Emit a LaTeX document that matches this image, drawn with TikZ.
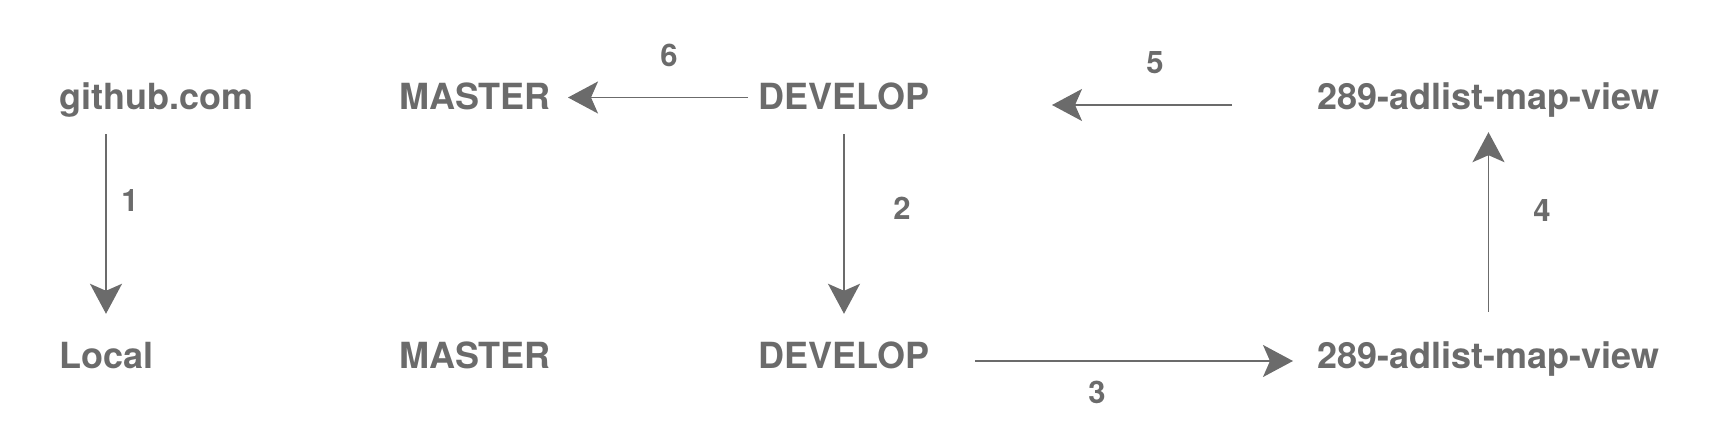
\documentclass[tikz,border=0pt]{standalone}
\usepackage{fontspec}
\setmainfont{TeX Gyre Heros}
\usetikzlibrary{arrows.meta}
\definecolor{flowgray}{HTML}{6B6B6B}
\def\topline{110}
\def\botline{369}
\tikzset{
  branch/.style={font=\fontsize{36bp}{42bp}\selectfont\bfseries, text=flowgray,
    inner sep=0pt, text height=25bp, text depth=0pt, anchor=base},
  stepnum/.style={font=\fontsize{31bp}{36bp}\selectfont\bfseries, text=flowgray, inner sep=0pt},
  flow/.style={draw=flowgray, line width=1.6bp,
    -{Stealth[length=30bp,width=32bp,inset=7bp]}}
}
\begin{document}
\begin{tikzpicture}[x=1bp,y=-1bp]
\useasboundingbox (0,0) rectangle (1736,444);

% top row
\node[branch, anchor=base west] (gh) at (59,\topline) {github.com};
\node[branch] (mt) at (475,\topline) {MASTER};
\node[branch] (dt) at (844,\topline) {DEVELOP};
\node[branch] (ft) at (1488.5,\topline) {289-adlist-map-view};

% bottom row
\node[branch, anchor=base west] (lo) at (59,\botline) {Local};
\node[branch] (mb) at (475,\botline) {MASTER};
\node[branch] (db) at (844,\botline) {DEVELOP};
\node[branch] (fb) at (1488.5,\botline) {289-adlist-map-view};

\draw[flow, shorten <=24bp, shorten >=30bp] ([xshift=47bp]gh.south west) -- ([xshift=47bp]lo.north west);
\draw[flow, shorten <=24bp, shorten >=30bp] (dt.south) -- (db.north);
\draw[flow, shorten <=131bp, shorten >=195.5bp] ([yshift=-4.5bp]db.center) -- ([yshift=-4.5bp]fb.center);
\draw[flow, shorten <=32bp, shorten >=22bp] (fb.north) -- (ft.south);
\draw[flow, shorten <=256.5bp, shorten >=208bp] ([yshift=-7.5bp]ft.center) -- ([yshift=-7.5bp]dt.center);
\draw[flow, shorten <=96bp, shorten >=93bp] (dt.center) -- (mt.center);

% step numbers
\node[stepnum] (s1) at (130,201) {1};
\node[stepnum] (s2) at (902,208) {2};
\node[stepnum] (s3) at (1097,392) {3};
\node[stepnum] (s4) at (1542,211) {4};
\node[stepnum] (s5) at (1155,63) {5};
\node[stepnum] (s6) at (669,55) {6};

\end{tikzpicture}
\end{document}
